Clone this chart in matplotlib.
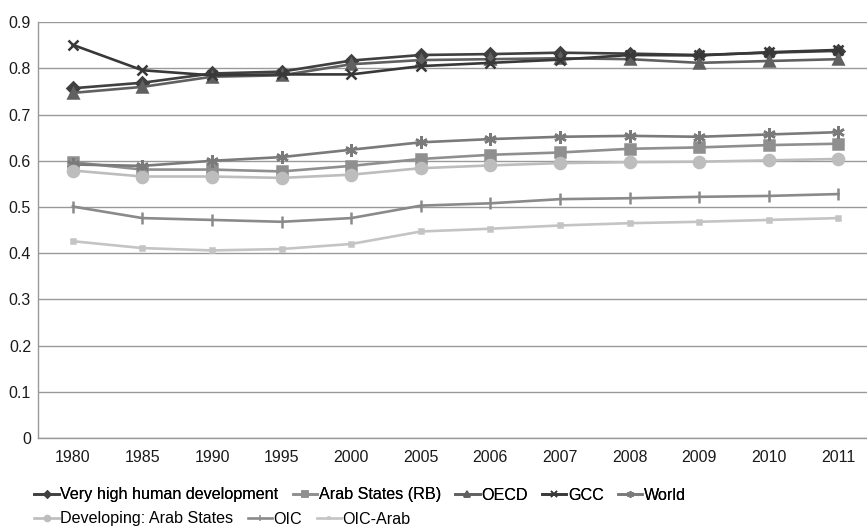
import matplotlib
matplotlib.use("Agg")
import matplotlib.pyplot as plt
from matplotlib.lines import Line2D

plt.rcParams['font.family'] = ['Liberation Sans', 'DejaVu Sans']

# years on the category axis
years = ["1980", "1985", "1990", "1995", "2000", "2005",
         "2006", "2007", "2008", "2009", "2010", "2011"]

very_high = [0.757, 0.769, 0.789, 0.793, 0.817, 0.829, 0.831, 0.834, 0.832, 0.829, 0.834, 0.838]
arab_rb   = [0.597, 0.581, 0.581, 0.577, 0.589, 0.604, 0.613, 0.618, 0.626, 0.629, 0.634, 0.637]
oecd      = [0.747, 0.760, 0.782, 0.785, 0.809, 0.818, 0.820, 0.822, 0.820, 0.812, 0.816, 0.820]
gcc       = [0.851, 0.796, 0.785, 0.787, 0.787, 0.805, 0.812, 0.819, 0.829, 0.828, 0.835, 0.840]
world     = [0.592, 0.589, 0.600, 0.608, 0.624, 0.640, 0.647, 0.652, 0.654, 0.652, 0.657, 0.662]
dev_arab  = [0.579, 0.566, 0.566, 0.563, 0.570, 0.584, 0.590, 0.595, 0.597, 0.598, 0.601, 0.604]
oic       = [0.501, 0.476, 0.472, 0.468, 0.476, 0.503, 0.508, 0.517, 0.519, 0.522, 0.524, 0.528]
oic_arab  = [0.426, 0.411, 0.406, 0.409, 0.420, 0.447, 0.453, 0.460, 0.465, 0.468, 0.472, 0.476]

yticks = [0, 0.1, 0.2, 0.3, 0.4, 0.5, 0.6, 0.7, 0.8, 0.9]
ytick_labels = ["0", "0.1", "0.2", "0.3", "0.4", "0.5", "0.6", "0.7", "0.8", "0.9"]

# label, data, colour, marker, marker size
series = [
    ("Very high human development", very_high, "#404040", "D", 6.5),
    ("Arab States (RB)", arab_rb, "#8f8f8f", "s", 7),
    ("OECD", oecd, "#606060", "^", 7),
    ("GCC", gcc, "#383838", "x", 7.5),
    ("World", world, "#7a7a7a", (6, 2, 0), 9),
    ("Developing: Arab States", dev_arab, "#bdbdbd", "o", 8),
    ("OIC", oic, "#8a8a8a", "|", 9),
    ("OIC-Arab", oic_arab, "#c4c4c4", "s", 3),
]

fig = plt.figure(figsize=(8.67, 5.30), dpi=100)
ax = fig.add_axes([38 / 867, 1 - 438 / 530, 829 / 867, (438 - 22.2) / 530])

x = list(range(len(years)))
handles = []
for label, vals, col, mk, ms in series:
    ax.plot(x, vals, color=col, lw=1.9, marker=mk, markersize=ms,
            markeredgewidth=1.8, markeredgecolor=col, markerfacecolor=col,
            label=label, zorder=3)
    handles.append(Line2D([], [], color=col, lw=1.9, marker=mk, markersize=ms * 0.55,
                          markeredgewidth=1.1, markeredgecolor=col, markerfacecolor=col))

ax.set_xlim(-0.5, 11.41)
ax.set_ylim(0, 0.9)
ax.set_xticks(x)
ax.set_xticklabels(years)
ax.set_yticks(yticks)
ax.set_yticklabels(ytick_labels)
ax.tick_params(axis='both', length=0, labelsize=11.5, colors="#1a1a1a")
ax.tick_params(axis='x', pad=9)
ax.tick_params(axis='y', pad=5)
ax.yaxis.grid(True, color="#999999", lw=1.0)
ax.set_axisbelow(True)
for s in ["top", "right"]:
    ax.spines[s].set_visible(False)
for s in ["left", "bottom"]:
    ax.spines[s].set_color("#999999")
    ax.spines[s].set_linewidth(1.0)

labels = [s[0] for s in series]
leg1 = fig.legend(handles[:5], labels[:5], loc="center left", ncol=5,
                  bbox_to_anchor=(28 / 867, 1 - 495 / 530), frameon=False,
                  fontsize=11.6, handlelength=1.5, handletextpad=0.1, columnspacing=0.9,
                  borderaxespad=0)
fig.add_artist(leg1)
fig.legend(handles[5:], labels[5:], loc="center left", ncol=3,
           bbox_to_anchor=(28 / 867, 1 - 519 / 530), frameon=False,
           fontsize=11.6, handlelength=1.5, handletextpad=0.1, columnspacing=0.9,
           borderaxespad=0)

fig.savefig("out.png", dpi=100)
